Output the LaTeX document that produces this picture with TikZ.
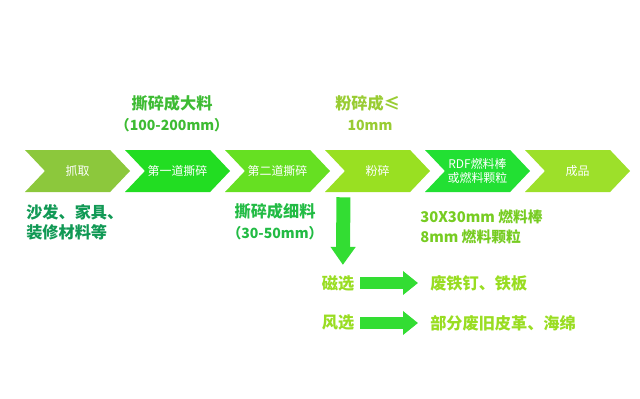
\documentclass[tikz,border=0pt]{standalone}
\usepackage{fontspec}
\setmainfont{Noto Sans CJK SC}
\usepackage{tikz}
\usetikzlibrary{arrows.meta,positioning,shapes.symbols}
\definecolor{chevA}{HTML}{8CC83C}
\definecolor{chevB}{HTML}{22DD22}
\definecolor{chevC}{HTML}{66E022}
\definecolor{chevD}{HTML}{99E022}
\definecolor{chevE}{HTML}{22E033}
\definecolor{chevF}{HTML}{9DE02A}
\definecolor{txtTeal}{HTML}{119955}
\definecolor{txtGreen}{HTML}{3DBB33}
\definecolor{txtFine}{HTML}{22BB44}
\definecolor{txtLime}{HTML}{99CC33}
\definecolor{txtFuel}{HTML}{77CC22}
\definecolor{txtSort}{HTML}{99DD22}
\definecolor{arrGreen}{HTML}{33DD33}

\begin{document}
\begin{tikzpicture}[
    x=0.25mm,y=-0.25mm,
    chev/.style={signal,signal to=east,signal from=west,signal pointer angle=93,
      minimum width=26.25mm,minimum height=10.5mm,inner sep=0pt,draw=none,
      text=white,font=\fontsize{8.5}{10.5}\selectfont,align=center},
    note/.style={font=\bfseries\fontsize{11.5}{14.2}\selectfont,inner sep=0pt},
    sub/.style={font=\bfseries\fontsize{10}{12}\selectfont,inner sep=0pt},
    fatdown/.style={-{Triangle[width=6mm,length=4.5mm]},line width=3.5mm,arrGreen},
    fatright/.style={-{Triangle[width=5.75mm,length=3.75mm]},line width=3mm,arrGreen}
]
\useasboundingbox (0,0) rectangle (640,398);

% process chain
\node[chev,fill=chevA] (grab) at (77.5,171) {抓取};
\node[chev,fill=chevB] (shred1) at (177.5,171) {第一道撕碎};
\node[chev,fill=chevC] (shred2) at (277.5,171) {第二道撕碎};
\node[chev,fill=chevD] (crush) at (377.5,171) {粉碎};
\node[chev,fill=chevE] (rdf) at (477.5,171) {RDF燃料棒\\或燃料颗粒};
\node[chev,fill=chevF] (product) at (577.5,171) {成品};

% notes above
\node[note,txtGreen] (coarse) at (172,103) {撕碎成大料};
\node[sub,txtGreen] (coarsesz) at (172,125) {（100-200mm）};
\node[note,txtLime,anchor=west] (crushto) at (335,103) {粉碎成≤};
\node[sub,txtLime] (crushsz) at (370,125) {10mm};

% notes below
\node[note,txtTeal,anchor=north west,align=left,font=\bfseries\fontsize{11.5}{14.2}\selectfont] (input) at (26,204) {沙发、家具、\\装修材料等};
\node[note,txtFine] (fine) at (275,211) {撕碎成细料};
\node[sub,txtFine] (finesz) at (275,233) {（30-50mm）};
\node[note,txtFuel,anchor=west,align=left,font=\bfseries\fontsize{10.5}{14.2}\selectfont] (fuel) at (420,227) {30X30mm 燃料棒\\8mm 燃料颗粒};

% sorting
\node[note,txtSort] (magnet) at (338,283) {磁选};
\node[note,txtSort] (wind) at (338,323) {风选};
\node[note,txtSort,anchor=west] (iron) at (430,283) {废铁钉、铁板};
\node[note,txtSort,anchor=west] (leather) at (430,323) {部分废旧皮革、海绵};

\draw[fatdown,shorten <=1.25mm,shorten >=2.5mm] ([xshift=-8.5mm]crush.south) -- ([xshift=1.2mm]magnet.north);
\draw[fatright,shorten <=1.5mm,shorten >=3mm] (magnet) -- (iron);
\draw[fatright,shorten <=1.5mm,shorten >=3mm] (wind) -- (leather);

\end{tikzpicture}
\end{document}
